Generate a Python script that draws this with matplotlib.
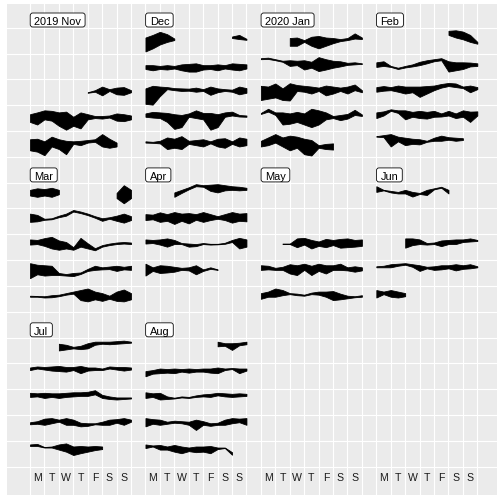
import datetime as dt
import matplotlib
matplotlib.use("Agg")
import matplotlib.pyplot as plt
from matplotlib.patches import FancyBboxPatch
from matplotlib.transforms import IdentityTransform

plt.rcParams['font.family'] = ['Liberation Sans', 'DejaVu Sans']

# ---------------- data ----------------
# Months shown, and their facet labels
month_keys = [(2019, 11), (2019, 12), (2020, 1), (2020, 2), (2020, 3),
              (2020, 4), (2020, 5), (2020, 6), (2020, 7), (2020, 8)]
month_labels = ["2019 Nov", "Dec", "2020 Jan", "Feb", "Mar",
                "Apr", "May", "Jun", "Jul", "Aug"]
weekday_labels = ["M", "T", "W", "T", "F", "S", "S"]

# Each entry: (start time, [(low, high) envelope of the value every 12 hours])
# values are on a 0-100 scale
nov = [
    ("2019-11-15", [(48, 50), (52, 58), (38, 72), (55, 62), (42, 68), (40, 70), (50, 58)]),
    ("2019-11-18", [(35, 65), (25, 72), (45, 80), (40, 78), (20, 72), (5, 75), (20, 55), (10, 72),
                    (45, 65), (50, 58), (48, 58), (52, 60), (40, 68), (38, 65), (45, 60)]),
    ("2019-11-25", [(25, 68), (20, 70), (6, 60), (40, 78), (30, 68), (10, 62), (50, 60), (45, 62),
                    (55, 65), (58, 68), (40, 88), (35, 70), (40, 55)]),
]
dec = [
    ("2019-12-01", [(60, 66), (56, 72), (53, 57)]),
    ("2019-12-02", [(40, 55), (35, 55), (40, 52), (38, 55), (42, 52), (35, 58), (30, 60), (30, 62),
                    (38, 55), (40, 55), (35, 58), (42, 55), (38, 62), (35, 60), (42, 58)]),
    ("2019-12-09", [(5, 65), (2, 75), (35, 72), (62, 70), (58, 66), (55, 65), (56, 64), (52, 68),
                    (55, 62), (40, 72), (50, 65), (55, 62), (52, 60), (42, 72), (48, 66)]),
    ("2019-12-16", [(55, 68), (52, 74), (50, 72), (35, 70), (8, 65), (15, 62), (55, 68), (50, 80),
                    (45, 70), (5, 70), (15, 65), (55, 72), (60, 75), (56, 62), (55, 60)]),
    ("2019-12-23", [(55, 60), (54, 58), (52, 62), (30, 75), (35, 70), (30, 80), (50, 62), (45, 65),
                    (40, 68), (52, 60), (40, 70), (35, 72), (50, 60), (40, 75), (45, 70)]),
    ("2019-12-30", [(8, 62), (20, 72), (35, 84), (45, 75), (52, 58)]),
]
jan = [
    ("2020-01-01", [(30, 60), (30, 62), (45, 52), (30, 65), (20, 68), (30, 62), (40, 60), (48, 56),
                    (52, 60), (58, 78), (56, 62)]),
    ("2020-01-06", [(78, 82), (79, 84), (74, 78), (68, 72), (52, 74), (55, 72), (38, 74), (45, 68),
                    (32, 86), (38, 78), (45, 72), (50, 70), (56, 64), (58, 66), (60, 62)]),
    ("2020-01-13", [(20, 75), (25, 72), (30, 84), (20, 65), (18, 85), (55, 78), (52, 75), (45, 72),
                    (55, 68), (38, 76), (45, 72), (55, 68), (45, 72), (58, 80), (50, 58)]),
    ("2020-01-20", [(66, 70), (75, 86), (62, 72), (25, 72), (28, 68), (35, 74), (25, 68), (15, 86),
                    (25, 80), (45, 72), (50, 58), (42, 62), (48, 66), (62, 82), (58, 64)]),
    ("2020-01-27", [(40, 62), (45, 75), (55, 88), (40, 75), (25, 82), (35, 78), (10, 70), (5, 65),
                    (35, 45), (30, 50), (28, 52)]),
]
feb = [
    ("2020-02-01", [(72, 88), (62, 90), (55, 85), (45, 72), (38, 45)]),
    ("2020-02-03", [(48, 66), (52, 70), (48, 52), (40, 45), (46, 52), (50, 58), (55, 68), (62, 74),
                    (70, 78), (74, 82), (30, 70), (35, 66), (40, 66), (50, 65), (52, 62)]),
    ("2020-02-10", [(52, 70), (56, 74), (58, 70), (52, 76), (45, 72), (50, 72), (32, 72), (45, 74),
                    (58, 76), (68, 82), (74, 86), (70, 84), (66, 72), (50, 76), (62, 70)]),
    ("2020-02-17", [(50, 72), (60, 76), (78, 84), (70, 80), (45, 80), (55, 74), (50, 78), (48, 74),
                    (55, 78), (56, 68), (60, 78), (50, 68), (55, 80), (35, 75), (60, 76)]),
    ("2020-02-24", [(78, 80), (76, 84), (40, 88), (60, 78), (45, 74), (50, 70), (48, 68), (58, 62),
                    (62, 74), (62, 82), (66, 76), (62, 74), (65, 72)]),
]
mar = [
    ("2020-03-01", [(40, 60), (20, 90), (40, 72)]),
    ("2020-03-02", [(48, 80), (50, 75), (56, 60), (58, 62), (66, 72), (72, 80), (88, 94), (82, 88),
                    (74, 80), (64, 70), (52, 62), (60, 66), (52, 72), (45, 80), (55, 70)]),
    ("2020-03-09", [(60, 80), (62, 78), (55, 85), (45, 90), (40, 76), (45, 70), (40, 50), (52, 86),
                    (45, 65), (38, 46), (52, 58), (58, 64), (62, 68), (64, 70), (62, 68)]),
    ("2020-03-16", [(30, 88), (45, 82), (40, 80), (42, 78), (42, 50), (40, 46), (38, 50), (46, 52),
                    (58, 66), (62, 78), (64, 72), (65, 75), (58, 78), (64, 74), (62, 78)]),
    ("2020-03-23", [(58, 62), (58, 61), (55, 60), (56, 64), (60, 66), (66, 72), (70, 78), (45, 84),
                    (40, 90), (48, 78), (42, 72), (50, 62), (42, 78), (40, 86), (48, 72)]),
    ("2020-03-30", [(50, 72), (45, 78), (50, 75), (45, 80), (55, 72)]),
]
apr = [
    ("2020-04-01", [(45, 62), (60, 72), (74, 82), (86, 94), (84, 90), (68, 92), (62, 94), (70, 90),
                    (72, 86), (70, 84), (72, 80)]),
    ("2020-04-06", [(55, 78), (58, 76), (48, 85), (52, 78), (40, 86), (52, 80), (42, 82), (56, 78),
                    (48, 86), (55, 78), (60, 70), (55, 78), (45, 86), (52, 80), (50, 82)]),
    ("2020-04-13", [(64, 80), (66, 78), (60, 80), (52, 84), (62, 78), (62, 66), (52, 64), (54, 62),
                    (62, 66), (60, 63), (61, 63), (63, 67), (70, 78), (45, 86), (52, 80)]),
    ("2020-04-20", [(40, 86), (58, 72), (50, 80), (52, 78), (55, 74), (62, 70), (60, 72), (45, 80),
                    (58, 64), (66, 72), (62, 64)]),
]
may = [
    ("2020-05-12T12:00", [(62, 64), (62, 64), (50, 84), (60, 86), (45, 78), (55, 72), (50, 82),
                          (58, 78), (48, 82), (50, 84), (52, 78), (55, 80)]),
    ("2020-05-18", [(62, 80), (64, 78), (62, 70), (62, 74), (48, 84), (42, 80), (62, 86), (42, 78),
                    (58, 86), (48, 80), (62, 80), (62, 86), (60, 72), (55, 76), (60, 72)]),
    ("2020-05-25", [(50, 72), (58, 78), (58, 90), (64, 84), (68, 72), (64, 70), (62, 66), (68, 74),
                    (66, 78), (58, 78), (45, 80), (48, 70), (52, 62), (56, 60), (58, 64)]),
]
jun = [
    ("2020-06-01", [(64, 86), (70, 72), (62, 68), (58, 64), (58, 72), (46, 64), (56, 60), (52, 72),
                    (74, 78), (80, 84), (58, 72)]),
    ("2020-06-17", [(48, 84), (58, 84), (62, 80), (60, 66), (62, 68), (54, 76), (62, 78), (62, 80),
                    (70, 80), (72, 84), (74, 78)]),
    ("2020-06-22", [(72, 76), (72, 78), (72, 84), (78, 86), (82, 88), (74, 84), (58, 80), (68, 74),
                    (62, 76), (64, 80), (68, 80), (60, 84), (66, 80), (68, 84), (72, 76)]),
    ("2020-06-29", [(55, 84), (68, 78), (58, 84), (55, 78), (60, 72)]),
]
jul = [
    ("2020-07-01", [(50, 76), (54, 72), (58, 64), (55, 68), (58, 78), (72, 84), (76, 84), (74, 84),
                    (76, 86), (78, 88), (80, 84)]),
    ("2020-07-06", [(74, 84), (80, 88), (76, 86), (72, 88), (70, 90), (68, 86), (74, 86), (62, 90),
                    (72, 84), (74, 84), (74, 80), (80, 88), (76, 86), (72, 86), (76, 84)]),
    ("2020-07-13", [(70, 86), (72, 84), (66, 86), (70, 84), (66, 84), (70, 86), (72, 88), (74, 88),
                    (74, 90), (80, 96), (66, 78), (62, 72), (60, 68), (62, 68), (64, 68)]),
    ("2020-07-20", [(64, 72), (66, 76), (62, 86), (68, 88), (74, 82), (62, 88), (62, 82), (56, 70),
                    (58, 68), (64, 68), (62, 74), (62, 82), (70, 84), (62, 88), (74, 82)]),
    ("2020-07-27", [(80, 86), (80, 88), (74, 76), (74, 78), (66, 86), (58, 90), (45, 78), (52, 80),
                    (58, 78), (64, 80), (68, 78)]),
]
aug = [
    ("2020-08-01", [(66, 84), (68, 78), (52, 78), (70, 80), (74, 84)]),
    ("2020-08-03", [(50, 70), (60, 74), (62, 80), (64, 78), (62, 80), (68, 78), (64, 80), (68, 78),
                    (68, 80), (64, 80), (62, 84), (74, 80), (78, 82), (62, 80), (72, 80)]),
    ("2020-08-10", [(66, 88), (70, 84), (60, 86), (62, 72), (64, 67), (68, 72), (66, 70), (70, 76),
                    (72, 80), (70, 82), (76, 86), (72, 84), (70, 82), (72, 84), (74, 82)]),
    ("2020-08-17", [(56, 88), (66, 84), (62, 82), (66, 74), (70, 78), (68, 76), (62, 74), (42, 82),
                    (62, 76), (58, 68), (62, 70), (62, 82), (68, 88), (72, 86), (62, 88)]),
    ("2020-08-24", [(72, 86), (78, 82), (66, 84), (66, 78), (58, 84), (52, 78), (60, 74), (56, 78),
                    (58, 78), (52, 80), (68, 74), (72, 74), (46, 56)]),
]
series_by_month = [nov, dec, jan, feb, mar, apr, may, jun, jul, aug]

# ---------------- layout ----------------
W = H = 504
X_PX = 14.43    # pixels per day column
Y_PX = 25.82    # pixels per week row
X0_PX, Y0_PX = 30.0, 27.7
LEFT, RIGHT, TOP, BOTTOM = 7.0, 497.3, 4.0, 495.0

fig = plt.figure(figsize=(W / 72, H / 72), dpi=72)
ax = fig.add_axes([LEFT / W, (H - BOTTOM) / H, (RIGHT - LEFT) / W, (BOTTOM - TOP) / H])
ax.set_facecolor('#EBEBEB')
for s in ax.spines.values():
    s.set_visible(False)
ax.set_xticks([])
ax.set_yticks([])
xlim = ((LEFT - X0_PX) / X_PX, (RIGHT - X0_PX) / X_PX)
ylim = ((BOTTOM - Y0_PX) / Y_PX, (TOP - Y0_PX) / Y_PX)
ax.set_xlim(*xlim)
ax.set_ylim(*ylim)

n_cols = 4
for i in range(n_cols * 8):
    ax.axvline(i, color='white', lw=1.1, zorder=0.5)
for j in range(3 * 6):
    ax.axhline(j, color='white', lw=1.1, zorder=0.5)

label_texts = []
for m, (yr, mo) in enumerate(month_keys):
    bx = (m % n_cols) * 8
    by = (m // n_cols) * 6
    fw = dt.date(yr, mo, 1).weekday()
    for start, pairs in series_by_month[m]:
        t = dt.datetime.fromisoformat(start)
        row = (t.day - 1 + fw) // 7
        if row >= 5:
            row = 0
        col = t.weekday() + t.hour / 24
        xs = [bx + col + 0.5 * k for k in range(len(pairs))]
        lo = [by + row + 1 - p[0] / 100 for p in pairs]
        hi = [by + row + 1 - p[1] / 100 for p in pairs]
        ax.fill_between(xs, lo, hi, color='black', lw=0.8, zorder=2)
    txt = ax.text(bx + 4.2 / X_PX, by - 3.0 / Y_PX, month_labels[m], ha='left', va='baseline',
                  fontsize=11, color='black', zorder=5)
    label_texts.append((txt, bx, by))

for c in range(n_cols):
    for d, lab in enumerate(weekday_labels):
        ax.text(c * 8 + d + 0.5, (480.7 - Y0_PX) / Y_PX, lab, ha='center', va='baseline',
                fontsize=10.5, color='#1a1a1a', zorder=5)

fig.canvas.draw()
rend = fig.canvas.get_renderer()
for txt, bx, by in label_texts:
    ext = txt.get_window_extent(rend)
    _, ya = ax.transData.transform((bx, by - 14.7 / Y_PX))
    _, yb = ax.transData.transform((bx, by - 0.7 / Y_PX))
    x0 = ext.x0 - 4.0
    x1 = ext.x1 + 4.0
    patch = FancyBboxPatch((x0, min(ya, yb)), x1 - x0, abs(ya - yb),
                           boxstyle="round,pad=0,rounding_size=2.5",
                           transform=IdentityTransform(), facecolor='white',
                           edgecolor='black', lw=0.8, zorder=4)
    ax.add_artist(patch)

ax.set_xlim(*xlim)
ax.set_ylim(*ylim)
fig.savefig('out.png', dpi=72, facecolor='white')
